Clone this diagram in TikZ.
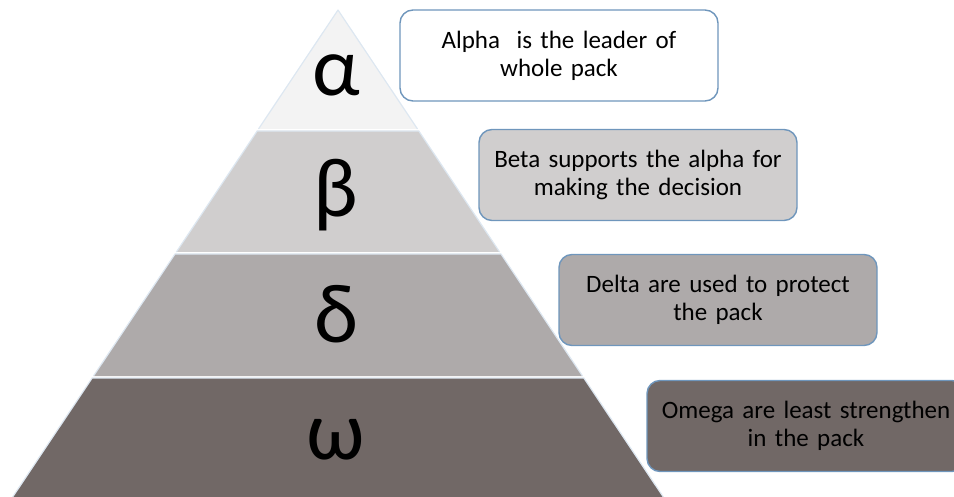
\documentclass[tikz,border=0pt]{standalone}
\usepackage{fontspec}
\setmainfont{Carlito}
\usetikzlibrary{calc, positioning}

\definecolor{tierA}{HTML}{F3F3F3}
\definecolor{tierB}{HTML}{D0CECE}
\definecolor{tierC}{HTML}{AEAAAA}
\definecolor{tierD}{HTML}{716866}
\definecolor{edgeblue}{HTML}{6F96BC}
\definecolor{sepline}{HTML}{DDE7F1}

\begin{document}
\begin{tikzpicture}[
		x=1pt, y=-1pt,
		tier/.style={draw=sepline, line width=1.2pt, line join=round},
		letter/.style={font=\fontsize{84}{84}\selectfont, text=black, inner sep=0pt},
		infobox/.style={draw=edgeblue, line width=1.4pt, rounded corners=13pt, minimum width=318pt, minimum height=91pt,
			text width=310pt, align=center, font=\fontsize{25}{28}\selectfont, text=black}
		]
		\useasboundingbox (0,0) rectangle (954,497);
		
		% ==========================================
		% 1. THE PYRAMID TIERS
		% ==========================================
		% Data format: index / top y / bottom y / letter y / fill / symbol
		\foreach \i/\ytop/\ybot/\ysym/\clr/\sym in {
			1/10/129/75/tierA/α,
			2/131/252/195/tierB/β,
			3/254/376/314/tierC/δ,
			4/378/497/440/tierD/ω%
		} {
			\pgfmathsetmacro{\lt}{338 - (\ytop-10)*0.668}
			\pgfmathsetmacro{\rt}{338 + (\ytop-10)*0.668}
			\pgfmathsetmacro{\lb}{338 - (\ybot-10)*0.668}
			\pgfmathsetmacro{\rb}{338 + (\ybot-10)*0.668}
			\fill[\clr] (\lt,\ytop) -- (\rt,\ytop) -- (\rb,\ybot) -- (\lb,\ybot) -- cycle;
			\draw[tier] (\lb,\ybot) -- (\lt,\ytop) -- (\rt,\ytop) -- (\rb,\ybot);
			\node[letter] (g-\i) at (336, \ysym) {\sym};
		}
		
		% ==========================================
		% 2. DESCRIPTION BOXES
		% ==========================================
		\node[infobox, fill=white] (box-1) at (559, 55.5) {Alpha\ \ is the leader of\\ whole pack};
		\node[infobox, fill=tierB] (box-2) at (638, 175) {Beta supports the alpha for\\ making the decision};
		\node[infobox, fill=tierC] (box-3) at (718, 300) {Delta are used to protect\\ the pack};
		\node[infobox, fill=tierD] (box-4) at (806, 426) {Omega are least strengthen\\ in the pack};
		
	\end{tikzpicture}
\end{document}
